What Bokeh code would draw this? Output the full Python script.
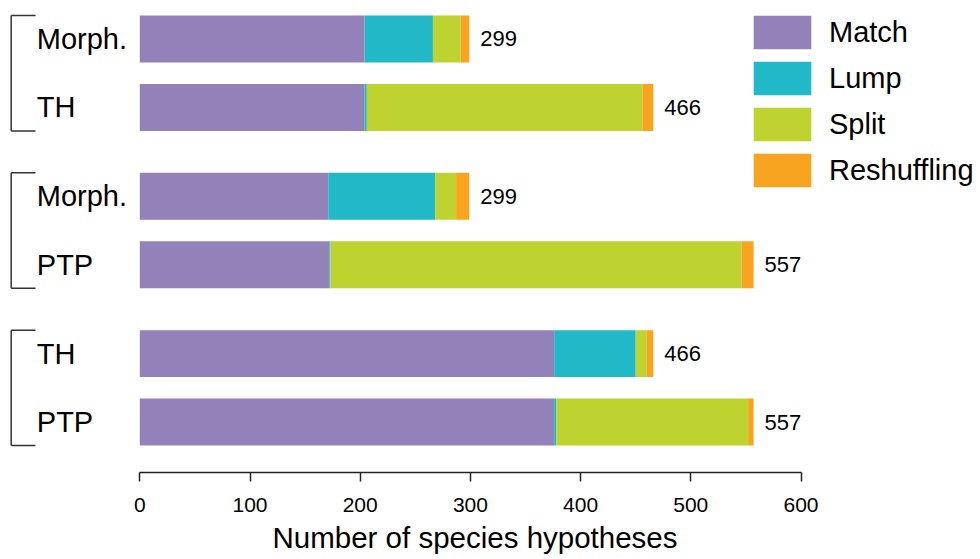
from bokeh.plotting import figure
from bokeh.models import Range1d, FixedTicker, ColumnDataSource, Title
from bokeh.core.properties import value
from bokeh.embed import file_html
from bokeh.resources import INLINE

# ---- data ----
labels = ["Morph.", "TH", "Morph.", "PTP", "TH", "PTP"]
groups = [0, 0, 1, 1, 2, 2]
match = [204, 204, 171, 172, 376, 376]
lump = [62, 2, 97, 1, 74, 2]
split = [25, 250, 19, 373, 10, 174]
reshuffling = [8, 10, 12, 11, 6, 5]
categories = ["Match", "Lump", "Split", "Reshuffling"]
colors = ["#9381BA", "#21B8C7", "#BED230", "#F8A421"]
xticks = [0, 100, 200, 300, 400, 500, 600]
x_label = "Number of species hypotheses"

# ---- layout constants ----
FONT = "Liberation Sans"
GAP = 0.3
BAR_H = 0.687
PX = 1.102  # pixels per data unit on x
W, H = 980, 559

ypos = [g * GAP + i for i, g in enumerate(groups)]
totals = [m + l + s + r for m, l, s, r in zip(match, lump, split, reshuffling)]

src = ColumnDataSource(dict(y=ypos, Match=match, Lump=lump, Split=split,
                            Reshuffling=reshuffling, label=labels,
                            total=totals, total_txt=[str(t) for t in totals]))

p = figure(width=W, height=H, output_backend="svg", toolbar_location=None,
           x_range=Range1d(-139.3 / PX, 600 + (W - 800.5) / PX),
           y_range=Range1d(ypos[-1] + 0.738, -38.5 / 68.4),
           y_axis_location=None,
           min_border_left=0, min_border_right=0, min_border_top=0,
           min_border_bottom=H - 472)
p.outline_line_color = None
p.grid.visible = False
p.background_fill_color = "white"
p.border_fill_color = "white"

p.hbar_stack(categories, y="y", height=BAR_H, color=colors, source=src,
             line_color=None, legend_label=categories)

# category labels
p.text(x=0, y="y", text="label", source=src, x_offset=-103,
       text_align="left", text_baseline="middle",
       text_font=value(FONT), text_font_size=value("29px"), text_color="black")

# totals
p.text(x="total", y="y", text="total_txt", source=src, x_offset=11,
       text_align="left", text_baseline="middle",
       text_font=value(FONT), text_font_size=value("22px"), text_color="black")

# brackets
bx = (10.7 - 139.3) / PX
ax_end = (35 - 139.3) / PX
tops, bots = [], []
for g in sorted(set(groups)):
    ys = [y for y, gg in zip(ypos, groups) if gg == g]
    tops.append(min(ys) - BAR_H / 2)
    bots.append(max(ys) + BAR_H / 2)
p.segment(x0=[bx] * len(tops), y0=tops, x1=[bx] * len(tops), y1=bots,
          line_color="#333333", line_width=1.5)
p.segment(x0=[bx] * len(tops), y0=tops, x1=[ax_end] * len(tops), y1=tops,
          line_color="#333333", line_width=1.5)
p.segment(x0=[bx] * len(bots), y0=bots, x1=[ax_end] * len(bots), y1=bots,
          line_color="#333333", line_width=1.5)

# x axis
xa = p.xaxis[0]
xa.bounds = (xticks[0], xticks[-1])
xa.ticker = FixedTicker(ticks=xticks)
xa.axis_line_color = "#222222"
xa.axis_line_width = 1.5
xa.major_tick_line_color = "#222222"
xa.major_tick_line_width = 1.5
xa.major_tick_in = 0
xa.major_tick_out = 9
xa.minor_tick_line_color = None
xa.major_label_text_font = FONT
xa.major_label_text_font_size = "21px"
xa.major_label_text_color = "black"
xa.major_label_standoff = 16

# axis title, centred under the 0-600 axis like the reference
xt = Title(text=x_label, align="left", offset=272, standoff=9,
           text_font=FONT, text_font_size="29.5px", text_font_style="normal",
           text_color="black")
p.add_layout(xt, "below")

# legend
lg = p.legend[0]
lg.location = (746, 281)
lg.padding = 0
lg.margin = 0
lg.spacing = 4
lg.glyph_width = 72
lg.glyph_height = 42
lg.label_standoff = 11
lg.label_text_font = FONT
lg.label_text_font_size = "29px"
lg.label_text_color = "black"
lg.border_line_color = None
lg.background_fill_alpha = 0

open("out.html", "w").write(file_html(p, INLINE))
